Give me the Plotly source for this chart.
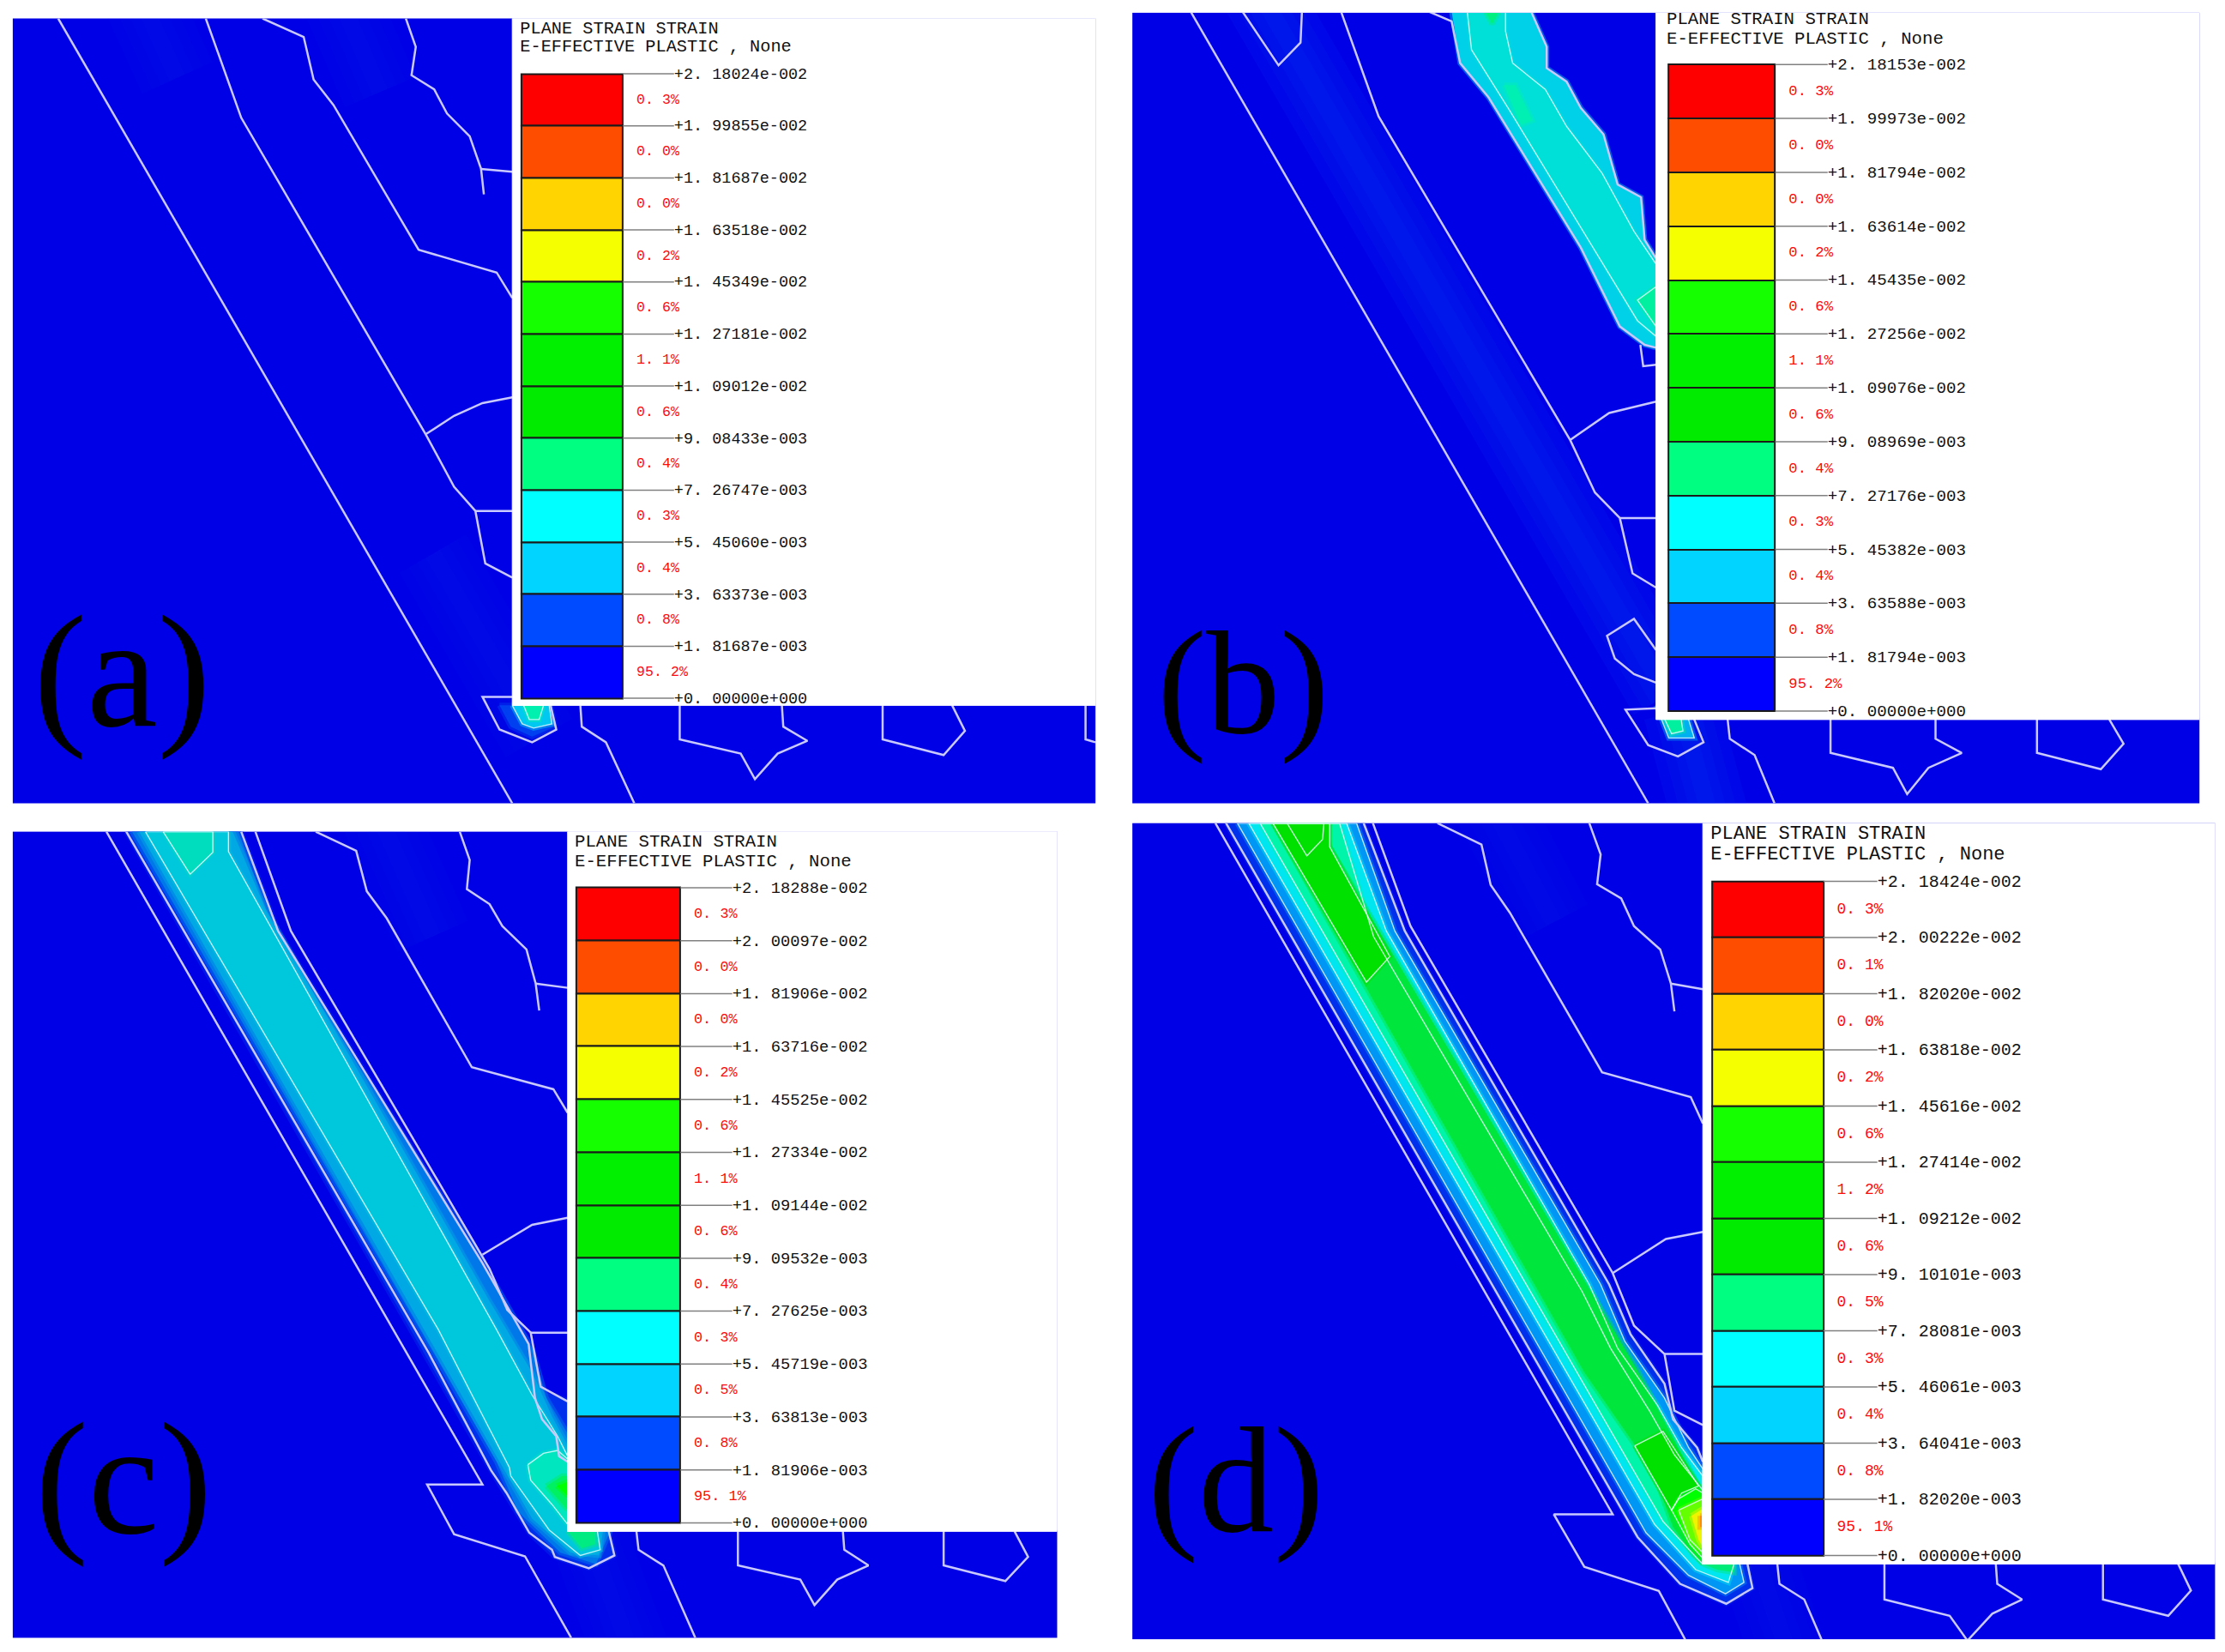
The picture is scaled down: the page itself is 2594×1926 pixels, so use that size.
import plotly.graph_objects as go

# all coordinates are in a 1568x1164 working grid
GRID_W, GRID_H = 1568, 1164
BLUE = "#0000E6"
MESH = "#C9C9FF"
CONTOUR = "rgba(235,255,255,0.8)"

band_colors = ["#FF0000", "#FF4D00", "#FFD400", "#F5FF00", "#15FF00", "#00F000",
               "#00EB00", "#00FF80", "#00FFFF", "#00D4FF", "#004BFF", "#0000FF"]

title_lines = ["PLANE STRAIN STRAIN", "E-EFFECTIVE PLASTIC , None"]

ticks_a = ["+2. 18024e-002", "+1. 99855e-002", "+1. 81687e-002", "+1. 63518e-002", "+1. 45349e-002",
           "+1. 27181e-002", "+1. 09012e-002", "+9. 08433e-003", "+7. 26747e-003", "+5. 45060e-003",
           "+3. 63373e-003", "+1. 81687e-003", "+0. 00000e+000"]
ticks_b = ["+2. 18153e-002", "+1. 99973e-002", "+1. 81794e-002", "+1. 63614e-002", "+1. 45435e-002",
           "+1. 27256e-002", "+1. 09076e-002", "+9. 08969e-003", "+7. 27176e-003", "+5. 45382e-003",
           "+3. 63588e-003", "+1. 81794e-003", "+0. 00000e+000"]
ticks_c = ["+2. 18288e-002", "+2. 00097e-002", "+1. 81906e-002", "+1. 63716e-002", "+1. 45525e-002",
           "+1. 27334e-002", "+1. 09144e-002", "+9. 09532e-003", "+7. 27625e-003", "+5. 45719e-003",
           "+3. 63813e-003", "+1. 81906e-003", "+0. 00000e+000"]
ticks_d = ["+2. 18424e-002", "+2. 00222e-002", "+1. 82020e-002", "+1. 63818e-002", "+1. 45616e-002",
           "+1. 27414e-002", "+1. 09212e-002", "+9. 10101e-003", "+7. 28081e-003", "+5. 46061e-003",
           "+3. 64041e-003", "+1. 82020e-003", "+0. 00000e+000"]

pct_a = ["0. 3%", "0. 0%", "0. 0%", "0. 2%", "0. 6%", "1. 1%", "0. 6%", "0. 4%", "0. 3%", "0. 4%", "0. 8%", "95. 2%"]
pct_b = ["0. 3%", "0. 0%", "0. 0%", "0. 2%", "0. 6%", "1. 1%", "0. 6%", "0. 4%", "0. 3%", "0. 4%", "0. 8%", "95. 2%"]
pct_c = ["0. 3%", "0. 0%", "0. 0%", "0. 2%", "0. 6%", "1. 1%", "0. 6%", "0. 4%", "0. 3%", "0. 5%", "0. 8%", "95. 1%"]
pct_d = ["0. 3%", "0. 1%", "0. 0%", "0. 2%", "0. 6%", "1. 2%", "0. 6%", "0. 5%", "0. 3%", "0. 4%", "0. 8%", "95. 1%"]

# element edges (white polylines)
mesh_a = [
    [(41, 13), (361, 566)],
    [(145, 13), (170, 83), (300, 306), (315, 334), (320, 343), (335, 360), (342, 397), (361, 407)],
    [(300, 306), (320, 293), (340, 284), (361, 280)],
    [(335, 360), (361, 360)],
    [(185, 13), (214, 26), (221, 56), (235, 74), (295, 176), (350, 192), (361, 210)],
    [(286, 13), (293, 33), (290, 53), (306, 63), (315, 80), (331, 96), (339, 119), (341, 137)],
    [(339, 119), (361, 121)],
    [(361, 491), (340, 491), (352, 514), (375, 523), (392, 514), (388, 497)],
    [(409, 497), (410, 512), (427, 523), (447, 566)],
    [(479, 497), (479, 521), (522, 531), (532, 549), (548, 531), (569, 522), (552, 512), (551, 497)],
    [(622, 497), (622, 521), (665, 532), (680, 515), (671, 497)],
    [(765, 497), (765, 521), (772, 523)],
]
mesh_b = [
    [(839, 8), (1161.5, 566)],
    [(945, 8), (971.5, 82), (1106.5, 310), (1124, 347), (1141.5, 365), (1150.5, 404), (1167, 414)],
    [(1106.5, 310), (1134, 291), (1167, 283)],
    [(1141.5, 365), (1167, 365)],
    [(875.5, 8), (901, 46), (916.5, 30), (917.5, 8)],
    [(1167, 458), (1151.5, 436), (1132.5, 448), (1138, 464), (1151.5, 475), (1167, 481)],
    [(1167, 499), (1145.5, 500), (1161.5, 525), (1182.5, 533), (1200.5, 523), (1194, 507)],
    [(1217.5, 507), (1219, 520.5), (1236.5, 532), (1250.5, 566)],
    [(1290, 507), (1290, 530.5), (1334, 541), (1344, 559.5), (1359, 541), (1382.5, 530.5), (1364, 520.5), (1364, 507)],
    [(1435.5, 507), (1435.5, 530.5), (1480.5, 542), (1496.5, 524), (1486.5, 507)],
    [(1006.5, 8), (1023, 15), (1029, 44.5), (1049, 68.6), (1114, 174.4), (1141.5, 230), (1159, 243), (1167, 245)],
    [(1079, 8), (1090, 33), (1090, 48), (1104, 57.5), (1114, 76), (1130, 94.6), (1140, 130), (1156.5, 139), (1159, 169), (1167, 182)],
    [(1156, 243), (1158, 258), (1167, 257)],
]
mesh_c = [
    [(75, 586), (340, 1046), (301, 1046), (320, 1081), (370, 1096.6), (402.5, 1154)],
    [(89, 586), (302, 953), (346, 1036), (357, 1052), (373, 1080), (389, 1092), (391, 1097), (415, 1105), (433, 1096), (429, 1079)],
    [(180, 586), (205, 656), (345, 894), (357.5, 923), (374, 939), (381, 977), (400, 987.5)],
    [(170, 586), (196, 656), (340, 890), (372.5, 947), (377, 985), (382, 1000), (392, 1012), (394, 1026), (400, 1030)],
    [(340, 884), (375, 863), (400, 858)],
    [(374, 939), (400, 939)],
    [(222.5, 586), (251, 599.5), (258.5, 628), (272.5, 647), (332.5, 752), (390, 767.5), (400, 784)],
    [(324, 586), (331, 606), (329, 626.5), (345, 637), (354, 652.5), (371, 669), (377.5, 693), (380, 712)],
    [(377.5, 693), (400, 696)],
    [(448.5, 1079), (450, 1092), (467.5, 1103), (490, 1154)],
    [(520, 1079), (520, 1103), (564, 1113), (574, 1131), (590, 1113), (612, 1103), (595, 1092), (594, 1079)],
    [(665, 1079), (665, 1103), (708.5, 1114), (724.5, 1097), (715, 1079)],
]
mesh_d = [
    [(856.5, 580), (1136.5, 1067), (1095, 1067), (1116.5, 1104), (1169, 1121), (1188, 1156)],
    [(864, 580), (1154, 1083), (1184, 1116), (1216.5, 1130), (1235, 1119), (1231.5, 1102)],
    [(967.5, 580), (994, 652.5), (1136.5, 897), (1151.5, 934), (1173, 954), (1180, 994), (1200, 1004)],
    [(961, 580), (990, 656), (1134, 905), (1149, 940), (1173, 975), (1179, 1000), (1196, 1020), (1200, 1030)],
    [(1136.5, 897), (1174, 873), (1200, 868)],
    [(1173, 954), (1200, 954)],
    [(1013, 580), (1044, 595), (1050.5, 623.5), (1064, 643), (1129, 755.6), (1191.5, 773), (1200, 791.6)],
    [(1120, 580), (1128, 602), (1125.5, 623), (1142.5, 633), (1151.5, 652.5), (1170, 669), (1177.5, 693), (1180, 712.6)],
    [(1177.5, 693), (1200, 697)],
    [(1252.5, 1102), (1254, 1116), (1271.5, 1127), (1284, 1156)],
    [(1328, 1102), (1328, 1127), (1374, 1138.5), (1386.5, 1156), (1404, 1137), (1425, 1127), (1407.5, 1116), (1406.5, 1102)],
    [(1482, 1102), (1482, 1127), (1528, 1138.5), (1544, 1120.7), (1535, 1102)],
]

# strain contour patches, painted in order, as (colour, outlined, points)
patches_a = [
    ("#0040F0", False, [(352, 497), (360, 512), (375, 519), (391, 512), (388, 497)]),
    ("#00C8F0", True, [(361, 497), (368, 510), (376, 513), (389, 510), (387, 497)]),
    ("#00F0B0", True, [(369, 497), (373, 507), (380, 507), (383, 497)]),
]
patches_b = [
    ("#00D0E8", False, [(1023, 8), (1029, 44.5), (1049, 68.6), (1114, 174.4), (1141.5, 230), (1159, 243), (1167, 245),
                        (1167, 182), (1159, 169), (1156.5, 139), (1140, 130), (1130, 94.6), (1114, 76), (1104, 57.5),
                        (1090, 48), (1090, 33), (1079, 8)]),
    ("#00E0D8", True, [(1034, 8), (1037, 35), (1064, 78), (1134, 193), (1154, 226), (1167, 237), (1167, 186),
                       (1151.5, 163), (1129, 122), (1104, 89), (1089, 63), (1066, 44.5), (1061, 22), (1061, 8)]),
    ("#00F0B4", False, [(1060, 60), (1068, 60), (1080, 85), (1072, 88)]),
    ("#00F0A0", True, [(1167, 202), (1154, 211.5), (1167, 230)]),
    ("#00F080", False, [(1046.5, 8), (1051.5, 17), (1056.5, 8)]),
    ("#00B0F0", True, [(1167, 497), (1176, 520), (1194, 520), (1190, 507), (1180, 498)]),
    ("#00F0A0", True, [(1170, 500), (1178, 517), (1186, 515), (1184, 502)]),
]
patches_c = [
    ("#0030EC", False, [(89, 586), (346, 1036), (373, 1080), (391, 1097), (415, 1105), (433, 1096), (429, 1079), (400, 1079),
                        (400, 987), (382, 980), (372.5, 947), (340, 890), (196, 656), (170, 586)]),
    ("#0078EA", False, [(93, 586), (350, 1030), (365, 1065), (395, 1094), (420, 1102), (430, 1079), (400, 1079),
                        (400, 1010), (385, 985), (375, 950), (339, 887), (193, 656), (168, 586)]),
    ("#00A8E4", False, [(98, 586), (354, 1032), (375, 1070), (402, 1094), (422, 1096), (425, 1079), (400, 1079),
                        (400, 1018), (389, 998), (375, 967), (344, 915), (187, 640), (164, 586)]),
    ("#00C8DC", True, [(102.5, 586), (309, 937), (359, 1034), (360, 1040), (387, 1078), (409, 1096), (423, 1092), (421, 1079),
                       (400, 1079), (400, 1026), (393, 1012), (375, 983), (350, 937), (161, 600), (161, 586)]),
    ("#00DCBE", True, [(115, 586), (134, 616), (150, 600.6), (150, 586)]),
    ("#00E6BE", True, [(372, 1032), (383, 1024), (393, 1022), (400, 1028), (400, 1074), (389, 1060), (374, 1043)]),
    ("#00F064", False, [(385, 1047), (396, 1040), (400, 1040), (400, 1064)]),
    ("#00FF00", False, [(392.4, 1047), (400, 1044), (400, 1054)]),
    ("#00EB82", False, [(400, 1079), (419.6, 1079), (419.6, 1088), (410, 1091)]),
]
patches_d = [
    ("#0030EC", False, [(864, 580), (1154, 1083), (1184, 1116), (1216.5, 1130), (1235, 1119), (1231.5, 1102), (1200, 1102),
                        (1200, 1030), (1196, 1020), (1179, 1000), (1173, 975), (1149, 940), (1134, 905), (990, 656), (961, 580)]),
    ("#0096F5", True, [(872, 580), (1160, 1080), (1190, 1110), (1216, 1123), (1229, 1115), (1226, 1102), (1200, 1102),
                       (1200, 1035), (1190, 1020), (1173, 985), (1145, 945), (1128, 905), (983, 656), (956, 580)]),
    ("#00E6F0", True, [(880, 580), (1166, 1074), (1195, 1106), (1218, 1115), (1222, 1102), (1200, 1102),
                       (1200, 1040), (1185, 1020), (1168, 990), (1140, 950), (1120, 905), (977, 656), (949, 580)]),
    ("#00F5AA", True, [(888, 580), (1172, 1072), (1196, 1098), (1200, 1102), (1200, 1050), (1180, 1025), (1163, 995),
                       (1135, 950), (1115, 910), (968, 660), (944, 580)]),
    ("#00E63C", False, [(897, 580), (1116.5, 967), (1152, 1018), (1169, 1048), (1179, 1076), (1193, 1095), (1200, 1102),
                        (1200, 1052), (1197, 1047), (1175, 1006), (1154.7, 967), (937, 596.5), (933, 580)]),
    ("#00E100", True, [(897, 580), (963, 692), (979.4, 674), (937, 596.5), (937, 580)]),
    ("#00E100", True, [(907, 580), (921, 603), (932, 591.5), (933, 580)]),
    ("#00E100", True, [(1152, 1018.7), (1172, 1008.6), (1197, 1047), (1185, 1052), (1178, 1064), (1169, 1048)]),
    ("#00FF00", True, [(1178, 1064), (1183, 1056), (1195, 1049), (1200, 1052), (1200, 1098), (1191, 1088)]),
    ("#64FF00", True, [(1183, 1064), (1195, 1058), (1200, 1056), (1200, 1094), (1191, 1085)]),
    ("#F0F500", False, [(1192, 1068), (1200, 1063), (1200, 1090), (1197, 1085)]),
    ("#FF8C00", False, [(1198, 1068), (1200, 1068), (1200, 1076), (1198, 1076)]),
    ("#00EB78", False, [(1200, 1102), (1222, 1102), (1222, 1108), (1210, 1106)]),
]

# soft lighter streaks in the blue
glow_a = [[(305, 390), (380, 520)], [(100, 0), (125, 55)], [(240, 0), (268, 65)]]
glow_b = [[(885, -10), (1175, 490)], [(1185, 500), (1205, 575)]]
glow_c = [[(265, 570), (305, 660)], [(412, 1075), (445, 1165)]]
glow_d = [[(1050, 565), (1095, 650)], [(1238, 1098), (1262, 1170)]]
glow_alpha = [0.03, 0.08, 0.03, 0.03]

# panel boxes: blue area, corner of the white legend block, colour bar box
boxes = [(9, 772, 13, 566), (798, 1550, 9, 566), (9, 745, 586, 1154), (798, 1561, 580, 1155)]
cut_x = [361, 1167, 400, 1200]
cut_y = [497, 507, 1079, 1102]
bar_x = [(367.5, 439), (1175.5, 1251), (406, 479.5), (1206.5, 1285)]
bar_y = [(52, 492), (45.5, 501), (625.5, 1073), (621, 1096)]
tick_end = [475, 1288, 516, 1323]
title_y = [(20.5, 33.5), (13.5, 27.5), (593.5, 607.5), (587.5, 602.5)]
font_tick = [18.5, 19.2, 18.8, 20]
font_title = [20.3, 20.7, 20.7, 22]
panel_names = ["(a)", "(b)", "(c)", "(d)"]
name_pos = [(86, 483), (876, 490), (87, 1052), (871, 1052)]
name_size = [186, 172, 186, 176]

fig = go.Figure()
layout = {}
all_ticks = [ticks_a, ticks_b, ticks_c, ticks_d]
all_pct = [pct_a, pct_b, pct_c, pct_d]
all_mesh = [mesh_a, mesh_b, mesh_c, mesh_d]
all_patches = [patches_a, patches_b, patches_c, patches_d]
all_glow = [glow_a, glow_b, glow_c, glow_d]


def path(points, close=False):
    pts = points + points[:1] if close else points
    return [p[0] for p in pts], [p[1] for p in pts]


def soft(hex_color, alpha):
    r, g, b = (int(hex_color[k:k + 2], 16) for k in (1, 3, 5))
    return f"rgba({r},{g},{b},{alpha})"


for i in range(4):
    ax = "" if i == 0 else str(i + 1)
    xa, ya = "x" + ax, "y" + ax
    # overlay axes so the legend block paints above the field
    ox, oy = "x" + str(i + 5), "y" + str(i + 5)
    x0, x1, y0, y1 = boxes[i]
    xdom = [x0 / GRID_W, x1 / GRID_W]
    ydom = [1 - y1 / GRID_H, 1 - y0 / GRID_H]
    layout["xaxis" + ax] = dict(domain=xdom, range=[x0, x1], visible=False, fixedrange=True, anchor=ya)
    layout["yaxis" + ax] = dict(domain=ydom, range=[y1, y0], visible=False, fixedrange=True, anchor=xa)
    layout["xaxis" + str(i + 5)] = dict(domain=xdom, range=[x0, x1], visible=False, fixedrange=True,
                                        anchor=oy, overlaying=xa)
    layout["yaxis" + str(i + 5)] = dict(domain=ydom, range=[y1, y0], visible=False, fixedrange=True,
                                        anchor=ox, overlaying=ya)

    for g in all_glow[i]:
        gx, gy = path(g)
        for w in (90, 65, 42, 20):
            fig.add_trace(go.Scatter(x=gx, y=gy, mode="lines", xaxis=xa, yaxis=ya,
                                     line=dict(color=f"rgba(0,90,255,{glow_alpha[i]})", width=w)))
    for color, outlined, pts in all_patches[i]:
        px, py = path(pts, close=True)
        fig.add_trace(go.Scatter(x=px, y=py, mode="lines", fill="toself", fillcolor=color, xaxis=xa, yaxis=ya,
                                 line=dict(color=soft(color, 0.45), width=6)))
    for color, outlined, pts in all_patches[i]:
        if outlined:
            px, py = path(pts, close=True)
            fig.add_trace(go.Scatter(x=px, y=py, mode="lines", xaxis=xa, yaxis=ya,
                                     line=dict(color=CONTOUR, width=1.4)))
    for line in all_mesh[i]:
        mx, my = path(line)
        fig.add_trace(go.Scatter(x=mx, y=my, mode="lines", xaxis=xa, yaxis=ya, line=dict(color=MESH, width=2.5)))

    # white block behind the legend
    wx = [cut_x[i], x1, x1, cut_x[i], cut_x[i]]
    wy = [y0, y0, cut_y[i], cut_y[i], y0]
    fig.add_trace(go.Scatter(x=wx, y=wy, mode="lines", fill="toself", fillcolor="white", xaxis=xa, yaxis=ya,
                             line=dict(color="white", width=1)))
    # hides the blue fringe along the outer edges of the block
    fig.add_trace(go.Scatter(x=[cut_x[i], x1, x1], y=[y0, y0, cut_y[i] - 1], mode="lines", xaxis=ox, yaxis=oy,
                             cliponaxis=False, line=dict(color="white", width=4)))

    # colour bar heights come from the level values
    levels = [float(t.replace(" ", "")) for t in all_ticks[i]]
    top, bottom = bar_y[i]
    ys = [bottom - v / levels[0] * (bottom - top) for v in levels]
    lx0, lx1 = bar_x[i]
    fig.add_trace(go.Bar(x=[(lx0 + lx1) / 2] * 12, y=[ys[k + 1] - ys[k] for k in range(12)], base=ys[:12],
                         width=[lx1 - lx0] * 12,
                         marker=dict(color=band_colors, line=dict(color="#1A1A1A", width=2)),
                         xaxis=ox, yaxis=oy))

    tx, ty = [], []
    for y in ys:
        tx += [lx1, tick_end[i], None]
        ty += [y, y, None]
    fig.add_trace(go.Scatter(x=tx, y=ty, mode="lines", xaxis=ox, yaxis=oy, line=dict(color="#808080", width=1.5)))
    fig.add_trace(go.Scatter(x=[tick_end[i]] * 13, y=[y + 0.7 for y in ys], mode="text", text=all_ticks[i],
                             textposition="middle right",
                             textfont=dict(family="Liberation Mono", size=font_tick[i], color="#111111"),
                             cliponaxis=False, xaxis=ox, yaxis=oy))
    mids = [(ys[k] + ys[k + 1]) / 2 for k in range(12)]
    fig.add_trace(go.Scatter(x=[lx1 + 9.5] * 12, y=mids, mode="text", text=all_pct[i], textposition="middle right",
                             textfont=dict(family="Liberation Mono", size=font_tick[i] * 0.9, color="#FF0A0A"),
                             cliponaxis=False, xaxis=ox, yaxis=oy))
    fig.add_trace(go.Scatter(x=[lx0 - 1] * 2, y=title_y[i], mode="text", text=title_lines, textposition="middle right",
                             textfont=dict(family="Liberation Mono", size=font_title[i], color="#111111"),
                             cliponaxis=False, xaxis=ox, yaxis=oy))
    fig.add_trace(go.Scatter(x=[name_pos[i][0]], y=[name_pos[i][1]], mode="text", text=[panel_names[i]],
                             textposition="middle center",
                             textfont=dict(family="Liberation Serif", size=name_size[i], color="black"),
                             cliponaxis=False, xaxis=ox, yaxis=oy))

fig.update_layout(width=2594, height=1926, margin=dict(l=0, r=0, t=0, b=0), showlegend=False,
                  barmode="overlay", bargap=0, paper_bgcolor="white", plot_bgcolor=BLUE, **layout)
fig.write_html("out.html", post_script="document.body.style.margin='0';", config={"displayModeBar": False})
